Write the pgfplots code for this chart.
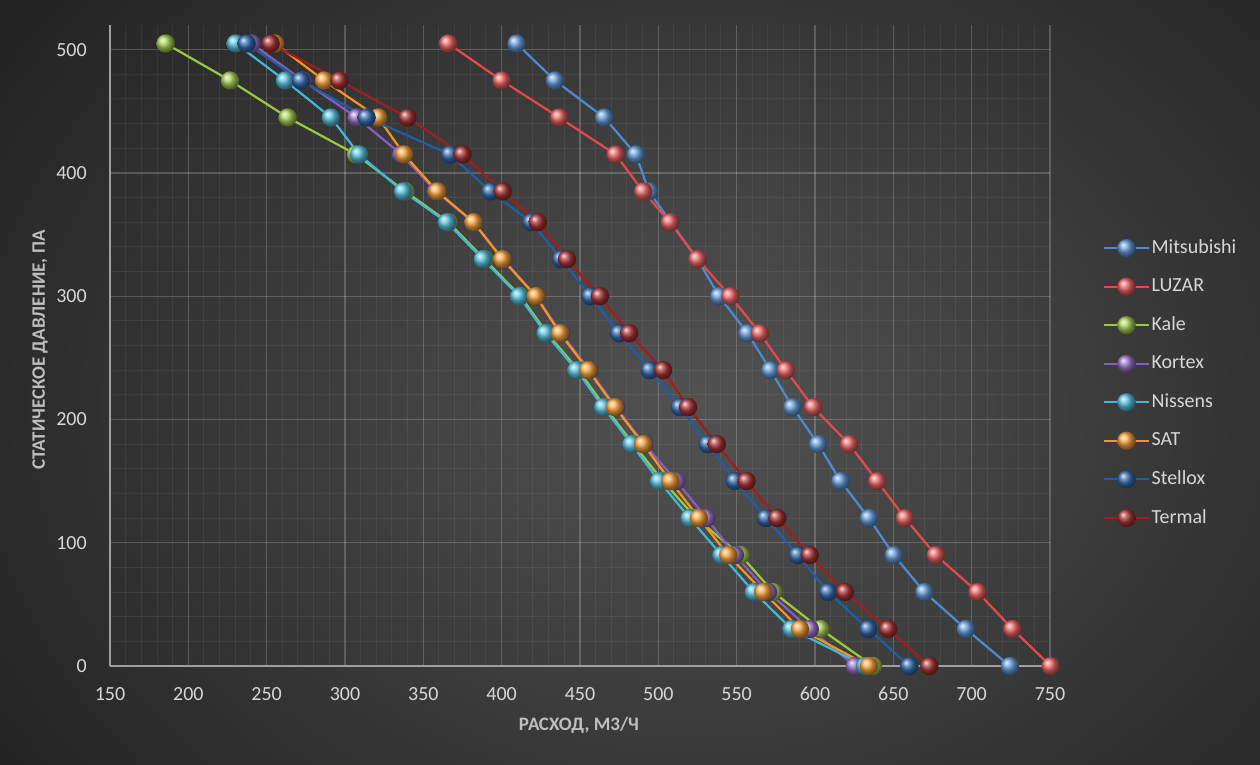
\documentclass[border=0pt]{standalone}
\usepackage{pgfplots}
\pgfplotsset{compat=1.18}
\usepackage{fontspec}
\setmainfont{Carlito}
\definecolor{cMit}{HTML}{4A8BD4}
\definecolor{cLuz}{HTML}{E84848}
\definecolor{cKal}{HTML}{9BCB3C}
\definecolor{cKor}{HTML}{8A5CC0}
\definecolor{cNis}{HTML}{3DB9DB}
\definecolor{cSat}{HTML}{F7941D}
\definecolor{cSte}{HTML}{1F5DA6}
\definecolor{cTer}{HTML}{A01E1E}
\definecolor{bgIn}{RGB}{82,82,82}
\definecolor{bgOut}{RGB}{24,24,24}
\definecolor{tickc}{RGB}{215,215,215}
\definecolor{titc}{RGB}{190,190,190}
\begin{document}
\begin{tikzpicture}
\begin{scope}
\clip (0pt,0pt) rectangle (630pt,382.5pt);
\shade[inner color=bgIn, outer color=bgOut] (-170pt,-230pt) rectangle (870pt,590pt);
\end{scope}
\useasboundingbox (0pt,0pt) rectangle (630pt,382.5pt);
\begin{axis}[
  at={(55pt,49.5pt)}, anchor=south west,
  scale only axis, width=470pt, height=320.5pt,
  xmin=150, xmax=750, ymin=0, ymax=520,
  xtick={150,200,...,750}, ytick={0,100,...,500},
  minor x tick num=4, minor y tick num=4,
  grid=both,
  major grid style={white, opacity=0.2, line width=0.6pt},
  minor grid style={white, opacity=0.06, line width=0.5pt},
  axis lines=left, axis line style={-, draw=gray!75, line width=0.8pt},
  tick style={draw=none},
  /pgf/number format/assume math mode=true,
  tick label style={font=\fontsize{10}{12}\selectfont, text=tickc},
  xticklabel style={yshift=-5pt},
  yticklabel style={xshift=-6pt},
  clip=false,
  every axis plot/.append style={line width=1.1pt, mark=ball, mark size=4.6pt},
  legend style={at={(axis description cs:1.05,0.675)}, anchor=north west,
    draw=none, fill=none, font=\fontsize{10}{12}\selectfont, text=tickc,
    row sep=8.9pt, nodes={inner sep=1pt}},
  legend cell align=left,
  legend image code/.code={\draw[mark repeat=2,mark phase=2,#1] plot coordinates {(0pt,0pt) (11pt,0pt) (22pt,0pt)};},
]
\addplot[color=cMit, mark options={ball color=cMit!85!white, draw opacity=0}] coordinates {
(409.5,505)(434,475)(465.4,445)(485.7,415)(494,385)(508,360)(525,330)(538.8,300)(556.9,270)(571.6,240)(585.6,210)(602,180)(616.3,150)(634.4,120)(650.3,90)(669.8,60)(696.3,30)(724.4,0)};
\addlegendentry{Mitsubishi}
\addplot[color=cLuz, mark options={ball color=cLuz!85!white, draw opacity=0}] coordinates {
(365.9,505)(400,475)(436.7,445)(472.7,415)(490.3,385)(507.4,360)(525,330)(546,300)(564.8,270)(581.4,240)(598.8,210)(621.8,180)(639.7,150)(657.4,120)(677.1,90)(703.8,60)(726,30)(750.4,0)};
\addlegendentry{LUZAR}
\addplot[color=cKal, mark options={ball color=cKal!85!white, draw opacity=0}] coordinates {
(185.5,505)(226.6,475)(263.4,445)(307,415)(338.5,385)(366,360)(389,330)(412,300)(429,270)(449,240)(466,210)(484,180)(503,150)(524,120)(552.5,90)(573.3,60)(603.5,30)(637,0)};
\addlegendentry{Kale}
\addplot[color=cKor, mark options={ball color=cKor!85!white, draw opacity=0}] coordinates {
(240.4,505)(273,475)(307.4,445)(336,415)(358,385)(382,360)(401,330)(422,300)(438,270)(456,240)(473,210)(491,180)(511.6,150)(530.7,120)(548.9,90)(570,60)(596.7,30)(625.5,0)};
\addlegendentry{Kortex}
\addplot[color=cNis, mark options={ball color=cNis!85!white, draw opacity=0}] coordinates {
(230.2,505)(261.7,475)(291,445)(309,415)(337,385)(365,360)(388,330)(411.2,300)(428,270)(447.8,240)(464.8,210)(482.9,180)(500.5,150)(520,120)(540.3,90)(561,60)(585,30)(632,0)};
\addlegendentry{Nissens}
\addplot[color=cSat, mark options={ball color=cSat!85!white, draw opacity=0}] coordinates {
(255.3,505)(286.6,475)(321.2,445)(337.7,415)(358.9,385)(382,360)(400.4,330)(421.8,300)(437.2,270)(455.2,240)(472.3,210)(490.3,180)(507.7,150)(525.9,120)(544.6,90)(567,60)(590.4,30)(634.4,0)};
\addlegendentry{SAT}
\addplot[color=cSte, mark options={ball color=cSte!90!white, draw opacity=0}] coordinates {
(237.2,505)(271.9,475)(313.8,445)(367,415)(392.8,385)(419,360)(438,330)(456.7,300)(475,270)(494.6,240)(513.8,210)(531.5,180)(548.9,150)(568.6,120)(589.1,90)(608.4,60)(634,30)(660.2,0)};
\addlegendentry{Stellox}
\addplot[color=cTer, mark options={ball color=cTer!90!white, draw opacity=0}] coordinates {
(252.5,505)(296.4,475)(339.9,445)(375,415)(400.7,385)(423,360)(441.7,330)(462.7,300)(481.4,270)(503,240)(519,210)(537.3,180)(556.3,150)(576,120)(596.6,90)(619.1,60)(646.7,30)(673,0)};
\addlegendentry{Termal}
\end{axis}
\node[text=titc, font=\fontsize{9.5}{11}\selectfont\bfseries] at (289.5pt,20pt) {РАСХОД, М3/Ч};
\node[text=titc, font=\fontsize{9.5}{11}\selectfont\bfseries, rotate=90] at (20pt,207.5pt) {СТАТИЧЕСКОЕ ДАВЛЕНИЕ, ПА};
\end{tikzpicture}
\end{document}
